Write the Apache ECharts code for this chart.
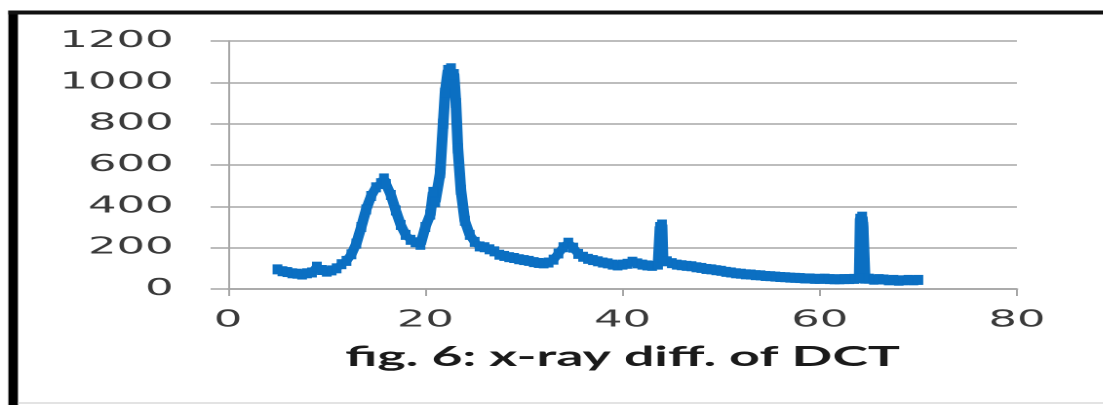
<!DOCTYPE html>
<html>
<head>
<meta charset="utf-8">
<script src="https://cdn.jsdelivr.net/npm/echarts@6/dist/echarts.min.js"></script>
<style>
  html, body { margin: 0; padding: 0; background: #fff; overflow: hidden; width: 1103px; height: 405px; }
  #chart { position: absolute; left: 0; top: 0; width: 566px; height: 405px; transform: scaleX(1.95); transform-origin: 0 0; }
</style>
</head>
<body>
<div id="chart"></div>
<script>
// Data (2θ in degrees, intensity)
const xValues = [
  5.0, 5.5, 6.0, 6.5, 7.0, 7.5, 8.0, 8.5, 9.0, 9.5,
  10.0, 10.5, 11.0, 11.5, 12.0, 12.5, 13.0, 13.5, 14.0, 14.5,
  15.0, 15.5, 15.8, 16.0, 16.5, 17.0, 17.5, 18.0, 18.5, 19.0,
  19.5, 20.0, 20.5, 20.8, 21.0, 21.5, 21.8, 22.0, 22.3, 22.6,
  22.9, 23.1, 23.3, 23.6, 24.0, 24.5, 25.0, 25.5, 26.0, 26.5,
  27.0, 27.5, 28.0, 28.5, 29.0, 29.5, 30.0, 30.5, 31.0, 31.5,
  32.0, 32.5, 33.0, 33.5, 34.0, 34.5, 35.0, 35.5, 36.0, 36.5,
  37.0, 37.5, 38.0, 38.5, 39.0, 39.5, 40.0, 40.5, 41.0, 41.5,
  42.0, 42.5, 43.0, 43.6, 43.8, 44.0, 44.1, 44.5, 45.0, 45.5,
  46.0, 46.5, 47.0, 47.5, 48.0, 48.5, 49.0, 49.5, 50.0, 50.5,
  51.0, 51.5, 52.0, 52.5, 53.0, 53.5, 54.0, 54.5, 55.0, 55.5,
  56.0, 56.5, 57.0, 57.5, 58.0, 58.5, 59.0, 59.5, 60.0, 60.5,
  61.0, 61.5, 62.0, 62.5, 63.0, 63.5, 64.0, 64.1, 64.3, 64.4,
  64.6, 65.0, 65.5, 66.0, 66.5, 67.0, 67.5, 68.0, 68.5, 69.0,
  69.5, 70.0
];
const intensity = [
  95, 86, 82, 76, 74, 70, 76, 80, 108, 92,
  84, 90, 100, 120, 136, 168, 220, 300, 385, 450,
  492, 512, 535, 508, 455, 380, 310, 262, 238, 226,
  214, 300, 360, 470, 420, 560, 800, 950, 1060, 1068,
  1040, 900, 680, 480, 330, 262, 228, 206, 202, 192,
  182, 166, 160, 154, 150, 144, 140, 136, 130, 126,
  124, 128, 142, 172, 202, 224, 200, 170, 156, 146,
  140, 134, 128, 124, 118, 114, 118, 122, 132, 124,
  118, 114, 112, 118, 300, 312, 150, 134, 125, 118,
  115, 112, 110, 105, 102, 97, 95, 91, 88, 83,
  80, 76, 74, 71, 70, 67, 66, 63, 62, 60,
  58, 57, 55, 54, 53, 51, 51, 49, 49, 50,
  48, 47, 47, 48, 48, 49, 52, 340, 350, 300,
  50, 50, 45, 48, 46, 42, 44, 40, 42, 44,
  42, 44
];
const xTicks = [0, 20, 40, 60, 80];
const yTicks = [0, 200, 400, 600, 800, 1000, 1200];
const captionText = 'fig. 6: x-ray diff. of DCT';

const seriesData = xValues.map((x, i) => [x, intensity[i]]);

const chart = echarts.init(document.getElementById('chart'), null, { renderer: 'canvas', devicePixelRatio: 2 });
const axisGray = '#a6a6a6';
const labelStyle = { fontFamily: 'DejaVu Sans', fontSize: 23, color: '#3a3a3a', formatter: (v) => String(v) };

chart.setOption({
  animation: false,
  backgroundColor: '#ffffff',
  grid: { left: 117, right: 44.5, top: 41, bottom: 116, containLabel: false },
  xAxis: {
    type: 'value',
    min: xTicks[0], max: xTicks[xTicks.length - 1], interval: xTicks[1] - xTicks[0],
    axisLine: { show: true, lineStyle: { color: axisGray, width: 1.5 } },
    axisTick: { show: true, length: 7, lineStyle: { color: axisGray, width: 1 } },
    splitLine: { show: false },
    axisLabel: Object.assign({ margin: 20 }, labelStyle),
    name: captionText,
    nameLocation: 'middle',
    nameGap: 54,
    nameTextStyle: { fontFamily: 'Lato', fontWeight: 'bold', fontSize: 27.5, color: '#1a1a1a', verticalAlign: 'top' }
  },
  yAxis: {
    type: 'value',
    min: yTicks[0], max: yTicks[yTicks.length - 1], interval: yTicks[1] - yTicks[0],
    axisLine: { show: true, lineStyle: { color: axisGray, width: 1 } },
    axisTick: { show: true, length: 9, lineStyle: { color: axisGray, width: 1.5 } },
    splitLine: { show: true, lineStyle: { color: '#bdbdbd', width: 2 } },
    axisLabel: Object.assign({ margin: 28 }, labelStyle)
  },
  series: [{
    type: 'line',
    data: seriesData,
    showSymbol: true,
    symbol: 'rect',
    symbolSize: [5, 10],
    itemStyle: { color: '#0b6fc2' },
    lineStyle: { color: '#0b6fc2', width: 5.5 },
    z: 5
  }],
  graphic: [
    { type: 'rect', shape: { x: 4.3, y: 10.5, width: 4.9, height: 400 }, style: { fill: '#000' }, z: 100 },
    { type: 'rect', shape: { x: 4.3, y: 10.5, width: 570, height: 4 }, style: { fill: '#111' }, z: 100 },
    { type: 'rect', shape: { x: 9, y: 402.5, width: 570, height: 1 }, style: { fill: '#c8c8c8' }, z: 100 }
  ]
});
</script>
</body>
</html>
